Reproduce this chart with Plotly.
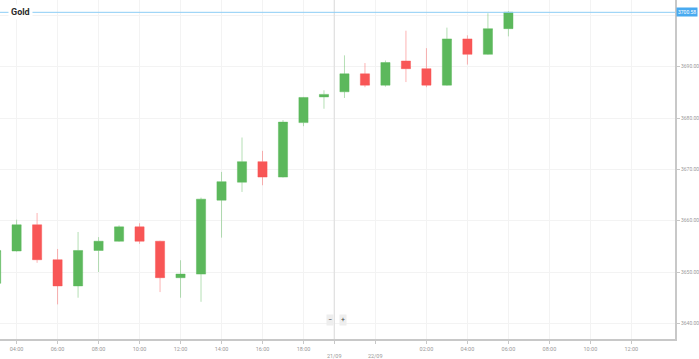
import plotly.graph_objects as go

# ---- data (hourly candles, index positions on a gap-free time axis) ----
idx = list(range(26))
opens  = [3647.8, 3654.1, 3659.2, 3652.4, 3647.3, 3654.2, 3656.0, 3658.8, 3656.0, 3648.9,
          3649.6, 3664.0, 3667.5, 3671.5, 3668.5, 3679.1, 3684.1, 3685.1, 3688.6, 3686.4,
          3691.1, 3689.6, 3686.4, 3695.4, 3692.4, 3697.4]
highs  = [3654.3, 3660.2, 3661.5, 3654.5, 3657.8, 3656.8, 3659.1, 3659.5, 3656.1, 3652.3,
          3664.5, 3669.5, 3676.2, 3673.6, 3679.6, 3684.1, 3685.4, 3692.2, 3690.7, 3691.2,
          3697.0, 3693.6, 3697.6, 3696.1, 3700.4, 3700.8]
lows   = [3647.6, 3654.0, 3651.8, 3643.7, 3645.0, 3650.0, 3655.9, 3655.5, 3646.1, 3645.0,
          3644.2, 3656.7, 3665.6, 3666.9, 3668.4, 3678.4, 3681.8, 3683.9, 3686.0, 3686.1,
          3687.0, 3686.0, 3686.3, 3690.4, 3692.3, 3695.9]
closes = [3654.2, 3659.2, 3652.4, 3647.3, 3654.2, 3656.0, 3658.8, 3656.0, 3648.9, 3649.6,
          3664.2, 3667.6, 3671.5, 3668.5, 3679.2, 3684.0, 3684.6, 3688.6, 3686.4, 3690.8,
          3689.6, 3686.4, 3695.4, 3692.4, 3697.4, 3700.6]

tick_pos = [1, 3, 5, 7, 9, 11, 13, 15, 16.5, 18.5, 21, 23, 25, 27, 29, 31]
tick_txt = ["04:00", "06:00", "08:00", "10:00", "12:00", "14:00", "16:00", "18:00",
            "<br>21/09", "<br>22/09", "02:00", "04:00", "06:00", "08:00", "10:00", "12:00"]
y_ticks = [3640, 3650, 3660, 3670, 3680, 3690, 3700]
y_text = ["3640.00", "3650.00", "3660.00", "3670.00", "3680.00", "3690.00", ""]
current_price = 3700.58
title = "Gold"

GREEN = "#5cb85c"
RED = "#f85656"

fig = go.Figure(go.Candlestick(
    x=idx, open=opens, high=highs, low=lows, close=closes,
    increasing=dict(line=dict(color="rgba(92,184,92,0.45)", width=1), fillcolor=GREEN),
    decreasing=dict(line=dict(color="rgba(248,86,86,0.45)", width=1), fillcolor=RED),
    whiskerwidth=0, showlegend=False, hoverinfo="skip",
))

font = "Roboto, 'Open Sans', Arial, sans-serif"

fig.update_layout(
    width=699, height=359,
    margin=dict(l=0, r=22, t=0, b=18),
    paper_bgcolor="white", plot_bgcolor="white",
    boxgap=0.36,
    font=dict(family=font, color="#999", size=5.5),
    xaxis=dict(
        range=[0.19, 33.13], rangeslider=dict(visible=False),
        tickmode="array", tickvals=tick_pos, ticktext=tick_txt,
        showgrid=True, gridcolor="#f3f3f3", gridwidth=1,
        showline=True, linecolor="#c8c8c8", linewidth=2,
        ticks="outside", ticklen=3, tickcolor="#c8c8c8",
        tickfont=dict(size=5.5, color="#999"), zeroline=False, fixedrange=True,
    ),
    yaxis=dict(
        range=[3636.96, 3702.98], side="right",
        tickmode="array", tickvals=y_ticks, ticktext=y_text,
        showgrid=True, gridcolor="#f3f3f3", gridwidth=1,
        showline=True, linecolor="#c8c8c8", linewidth=2,
        ticks="outside", ticklen=3, tickcolor="#c8c8c8",
        tickfont=dict(size=5, color="#999"), zeroline=False, fixedrange=True,
    ),
    shapes=[
        dict(type="line", xref="x", yref="paper", x0=16.5, x1=16.5, y0=0, y1=1,
             line=dict(color="#dcdcdc", width=1)),
        dict(type="line", xref="paper", yref="y", x0=0, x1=1, y0=current_price, y1=current_price,
             line=dict(color="#8ccdf5", width=1)),
    ],
    annotations=[
        dict(text="<b>" + title + "</b>", xref="paper", yref="y", x=0.0, y=current_price,
             xanchor="left", yanchor="middle", xshift=8, showarrow=False,
             bgcolor="white", borderpad=2, font=dict(size=9, color="#2b2b2b", family=font)),
        dict(text=f"{current_price:.2f}", xref="paper", yref="y", x=1.0, y=current_price,
             xanchor="left", yanchor="middle", xshift=1, showarrow=False,
             bgcolor="#49aaf0", borderpad=1, font=dict(size=5, color="white", family=font)),
        dict(text="−", xref="x", yref="paper", x=16.3, y=0, yshift=19, showarrow=False,
             xanchor="center", yanchor="middle", bgcolor="#eeeeee", borderpad=1,
             font=dict(size=7, color="#444")),
        dict(text="+", xref="x", yref="paper", x=16.93, y=0, yshift=19, showarrow=False,
             xanchor="center", yanchor="middle", bgcolor="#eeeeee", borderpad=1,
             font=dict(size=7, color="#444")),
    ],
)

fig.write_html("out.html", config={"displayModeBar": False},
               post_script="document.body.style.margin='0';document.body.style.padding='0';")
